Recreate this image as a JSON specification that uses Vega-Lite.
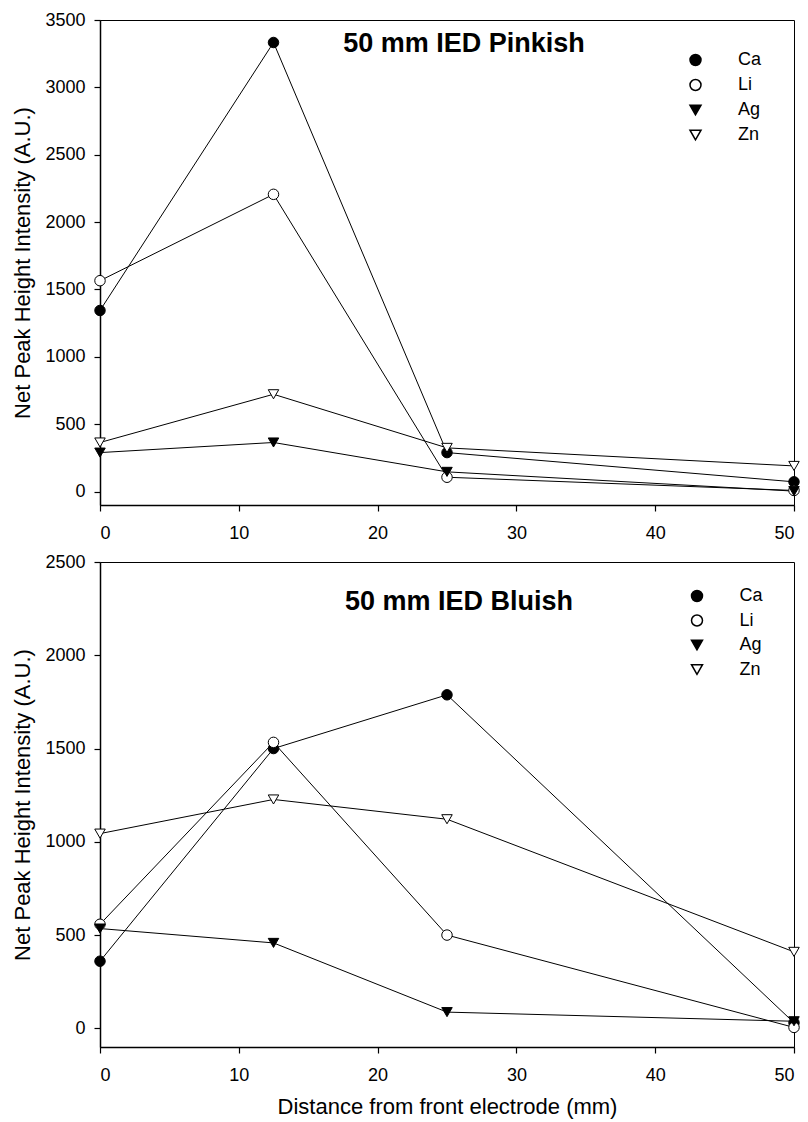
{
  "$schema": "https://vega.github.io/schema/vega-lite/v6.json",
  "background": "white",
  "padding": {"left": 11, "top": 10, "right": 3, "bottom": 2},
  "spacing": 9,
  "config": {
    "font": "Liberation Sans",
    "view": {"stroke": "black", "strokeWidth": 1},
    "axis": {
      "grid": false,
      "domainColor": "black",
      "domainWidth": 1.5,
      "tickColor": "black",
      "tickSize": 6,
      "tickWidth": 1.2,
      "labelFont": "Liberation Sans",
      "labelFontSize": 18,
      "labelColor": "black",
      "titleFont": "Liberation Sans",
      "titleFontSize": 22,
      "titleFontWeight": "normal",
      "titleColor": "black",
      "format": "d"
    },
    "legend": {
      "labelFont": "Liberation Sans",
      "labelFontSize": 18,
      "labelColor": "black"
    }
  },
  "datasets": {
    "pinkish": [
      {"distance": 0, "element": "Ca", "intensity": 1344},
      {"distance": 12.5, "element": "Ca", "intensity": 3333},
      {"distance": 25, "element": "Ca", "intensity": 289},
      {"distance": 50, "element": "Ca", "intensity": 72},
      {"distance": 0, "element": "Li", "intensity": 1565},
      {"distance": 12.5, "element": "Li", "intensity": 2206},
      {"distance": 25, "element": "Li", "intensity": 106},
      {"distance": 50, "element": "Li", "intensity": 8},
      {"distance": 0, "element": "Ag", "intensity": 289},
      {"distance": 12.5, "element": "Ag", "intensity": 364},
      {"distance": 25, "element": "Ag", "intensity": 146},
      {"distance": 50, "element": "Ag", "intensity": 3},
      {"distance": 0, "element": "Zn", "intensity": 364},
      {"distance": 12.5, "element": "Zn", "intensity": 722},
      {"distance": 25, "element": "Zn", "intensity": 324},
      {"distance": 50, "element": "Zn", "intensity": 190}
    ],
    "bluish": [
      {"distance": 0, "element": "Ca", "intensity": 360},
      {"distance": 12.5, "element": "Ca", "intensity": 1500},
      {"distance": 25, "element": "Ca", "intensity": 1788},
      {"distance": 50, "element": "Ca", "intensity": 30},
      {"distance": 0, "element": "Li", "intensity": 558},
      {"distance": 12.5, "element": "Li", "intensity": 1533},
      {"distance": 25, "element": "Li", "intensity": 500},
      {"distance": 50, "element": "Li", "intensity": 5},
      {"distance": 0, "element": "Ag", "intensity": 535},
      {"distance": 12.5, "element": "Ag", "intensity": 458},
      {"distance": 25, "element": "Ag", "intensity": 87},
      {"distance": 50, "element": "Ag", "intensity": 38},
      {"distance": 0, "element": "Zn", "intensity": 1044},
      {"distance": 12.5, "element": "Zn", "intensity": 1227},
      {"distance": 25, "element": "Zn", "intensity": 1121},
      {"distance": 50, "element": "Zn", "intensity": 410}
    ]
  },
  "resolve": {
    "scale": {"x": "independent", "y": "independent", "shape": "independent", "fill": "independent"},
    "legend": {"shape": "independent", "fill": "independent"}
  },
  "vconcat": [
    {
      "width": 694,
      "height": 485,
      "data": {"name": "pinkish"},
      "title": {
        "text": "50 mm IED Pinkish",
        "font": "Liberation Sans",
        "fontSize": 27,
        "fontWeight": "bold",
        "color": "black",
        "anchor": "middle",
        "baseline": "middle",
        "dx": 17,
        "offset": -60
      },
      "encoding": {
        "x": {
          "field": "distance", "type": "quantitative",
          "scale": {"domain": [0, 50], "nice": false, "zero": false},
          "axis": {"values": [0, 10, 20, 30, 40, 50], "title": null, "labelPadding": 13}
        },
        "y": {
          "field": "intensity", "type": "quantitative",
          "scale": {"domain": [-100, 3500], "nice": false, "zero": false},
          "axis": {"values": [0, 500, 1000, 1500, 2000, 2500, 3000, 3500], "title": "Net Peak Height Intensity (A.U.)", "labelPadding": 9, "titlePadding": 10}
        }
      },
      "layer": [
        {
          "mark": {"type": "line", "color": "black", "strokeWidth": 1},
          "encoding": {"detail": {"field": "element"}}
        },
        {
          "mark": {"type": "point", "filled": true, "stroke": "black", "strokeWidth": 1, "size": 110, "opacity": 1},
          "encoding": {
            "shape": {
              "field": "element", "type": "nominal",
              "scale": {"domain": ["Ca", "Li", "Ag", "Zn"], "range": ["circle", "circle", "triangle-down", "triangle-down"]},
              "legend": {
                "title": null, "orient": "none", "legendX": 586.5, "legendY": 31,
                "symbolSize": 121, "labelOffset": 33.5, "rowPadding": 7, "padding": 0
              }
            },
            "fill": {
              "field": "element", "type": "nominal",
              "scale": {"domain": ["Ca", "Li", "Ag", "Zn"], "range": ["black", "white", "black", "white"]},
              "legend": {
                "title": null, "orient": "none", "legendX": 586.5, "legendY": 31,
                "symbolSize": 121, "labelOffset": 33.5, "rowPadding": 7, "padding": 0
              }
            }
          }
        }
      ]
    },
    {
      "width": 694,
      "height": 485,
      "data": {"name": "bluish"},
      "title": {
        "text": "50 mm IED Bluish",
        "font": "Liberation Sans",
        "fontSize": 27,
        "fontWeight": "bold",
        "color": "black",
        "anchor": "middle",
        "baseline": "middle",
        "dx": 12,
        "offset": -76
      },
      "encoding": {
        "x": {
          "field": "distance", "type": "quantitative",
          "scale": {"domain": [0, 50], "nice": false, "zero": false},
          "axis": {"values": [0, 10, 20, 30, 40, 50], "title": "Distance from front electrode (mm)", "labelPadding": 13, "titlePadding": 12}
        },
        "y": {
          "field": "intensity", "type": "quantitative",
          "scale": {"domain": [-100, 2500], "nice": false, "zero": false},
          "axis": {"values": [0, 500, 1000, 1500, 2000, 2500], "title": "Net Peak Height Intensity (A.U.)", "labelPadding": 9, "titlePadding": 10}
        }
      },
      "layer": [
        {
          "mark": {"type": "line", "color": "black", "strokeWidth": 1},
          "encoding": {"detail": {"field": "element"}}
        },
        {
          "mark": {"type": "point", "filled": true, "stroke": "black", "strokeWidth": 1, "size": 110, "opacity": 1},
          "encoding": {
            "shape": {
              "field": "element", "type": "nominal",
              "scale": {"domain": ["Ca", "Li", "Ag", "Zn"], "range": ["circle", "circle", "triangle-down", "triangle-down"]},
              "legend": {
                "title": null, "orient": "none", "legendX": 588, "legendY": 25,
                "symbolSize": 121, "labelOffset": 33.5, "rowPadding": 6.5, "padding": 0
              }
            },
            "fill": {
              "field": "element", "type": "nominal",
              "scale": {"domain": ["Ca", "Li", "Ag", "Zn"], "range": ["black", "white", "black", "white"]},
              "legend": {
                "title": null, "orient": "none", "legendX": 588, "legendY": 25,
                "symbolSize": 121, "labelOffset": 33.5, "rowPadding": 6.5, "padding": 0
              }
            }
          }
        }
      ]
    }
  ]
}
